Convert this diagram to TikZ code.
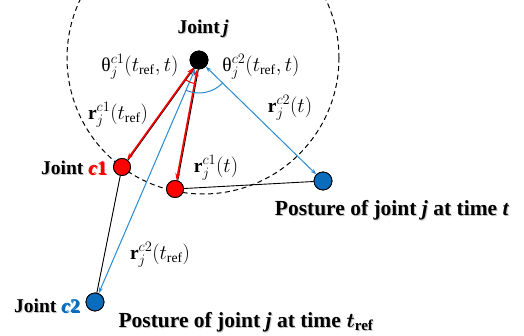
\documentclass[tikz,border=0pt]{standalone}
\usepackage{amsmath}
\usepackage{fontspec}
\setmainfont{Liberation Serif}
\usepackage{tikz}
\usetikzlibrary{arrows.meta}
\definecolor{jred}{HTML}{FF0000}
\definecolor{jblue}{HTML}{0A6CBC}
\definecolor{lblue}{HTML}{2A8AD0}

% bold label with a soft grey shadow
\newcommand{\shadowlabel}[4]{%
  \node[#1, text=black!22] (#2-sh) at ([shift={(1pt,-1.2pt)}]#3) {#4};
  \node[#1] (#2) at (#3) {#4};}

\begin{document}
\begin{tikzpicture}[x=1pt, y=1pt,
    dot/.style={circle, draw=black, line width=0.8pt, minimum size=17pt, inner sep=0pt},
    lbl/.style={font=\fontsize{19.5}{22}\selectfont\bfseries, inner sep=0pt},
    post/.style={font=\fontsize{21.5}{24}\selectfont\bfseries, inner sep=0pt},
    mlbl/.style={font=\fontsize{19.5}{22}\selectfont, inner sep=0pt},
    redarr/.style={{Stealth[length=7pt,width=5pt]}-{Stealth[length=7pt,width=5pt]}, jred, line width=1.6pt},
    blkarr/.style={black, line width=1pt, transform canvas={xshift=1.1pt}},
    bluearr/.style={{Stealth[length=6pt,width=4pt]}-{Stealth[length=6pt,width=4pt]}, lblue, line width=1pt},
    bone/.style={black, line width=0.9pt}
  ]
  \useasboundingbox (0,0) rectangle (524,-336);

  % joints
  \node[dot, fill=black, minimum size=18pt] (j) at (199,-60) {};
  \node[dot, fill=jred] (c1) at (122,-167) {};
  \node[dot, fill=jred] (c1t) at (175,-189) {};
  \node[dot, fill=jblue, minimum size=18pt] (c2t) at (323,-181) {};
  \node[dot, fill=jblue, minimum size=18pt] (c2) at (95,-302) {};

  % sphere of constant length
  \begin{scope}
    \clip (0,0) rectangle (524,-336);
    \draw[dashed, line width=1pt, dash pattern=on 5pt off 3.5pt] (203,-58) circle[radius=136];
  \end{scope}

  % bones
  \draw[bone] (c1) -- (c2);
  \draw[bone] (c1t) -- (c2t);

  % vectors
  \draw[bluearr] (j) -- (c2);
  \draw[bluearr] (j) -- (c2t);
  \draw[blkarr] (j) -- (c1);
  \draw[blkarr] (j) -- (c1t);
  \draw[redarr] (j) -- (c1);
  \draw[redarr] (j) -- (c1t);

  % angles
  \draw[jred, line width=1pt] ([shift={(234:24pt)}]j.center) arc[start angle=234, end angle=260, radius=24pt];
  \draw[lblue, line width=1pt] ([shift={(247:33pt)}]j.center) arc[start angle=247, end angle=316, radius=33pt];

  % redraw joints on top
  \node[dot, fill=black, minimum size=18pt] at (j) {};
  \node[dot, fill=jred] at (c1) {};
  \node[dot, fill=jred] at (c1t) {};
  \node[dot, fill=jblue, minimum size=18pt] at (c2t) {};
  \node[dot, fill=jblue, minimum size=18pt] at (c2) {};

  % texts
  \shadowlabel{lbl}{lj}{203,-29}{Joint\,\textit{j}}
  \shadowlabel{lbl}{lc1}{74,-168}{Joint \textcolor{jred}{\textit{c}1}}
  \shadowlabel{lbl}{lc2}{47,-306}{Joint \textcolor{jblue}{\textit{c}2}}
  \shadowlabel{post}{pt}{392,-210}{Posture of joint \textit{j} at time \textit{t}}
  \shadowlabel{post}{pref}{246,-322}{Posture of joint \textit{j} at time $\boldsymbol{t}_{\textbf{ref}}$}

  \node[mlbl] (th1) at (140,-67) {$\text{θ}_j^{c1}(t_{\mathrm{ref}},t)$};
  \node[mlbl] (th2) at (261,-67) {$\text{θ}_j^{c2}(t_{\mathrm{ref}},t)$};
  \node[mlbl] (r1ref) at (118,-115) {$\mathbf{r}_j^{c1}(t_{\mathrm{ref}})$};
  \node[mlbl] (r1t) at (216,-168) {$\mathbf{r}_j^{c1}(t)$};
  \node[mlbl] (r2t) at (290,-108) {$\mathbf{r}_j^{c2}(t)$};
  \node[mlbl] (r2ref) at (160,-255) {$\mathbf{r}_j^{c2}(t_{\mathrm{ref}})$};
\end{tikzpicture}
\end{document}
